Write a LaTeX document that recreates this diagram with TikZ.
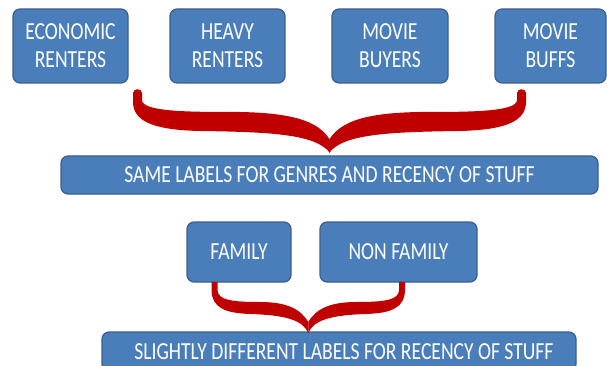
\documentclass[tikz,border=0pt]{standalone}
\usepackage{fontspec}
\setmainfont{Carlito}[FakeStretch=0.8]
\definecolor{boxfill}{HTML}{4A7EBB}
\definecolor{boxline}{HTML}{3A5F8E}
\definecolor{bracered}{HTML}{C00000}
\tikzset{
  blue box/.style={draw=boxline, fill=boxfill, line width=1.2pt, rounded corners=7pt,
    text=white, align=center, inner sep=0pt,
    font=\fontsize{24.5}{28}\selectfont},
  brace fill/.style={fill=bracered, draw=none}
}
\begin{document}
\begin{tikzpicture}[x=1pt,y=-1pt]
\useasboundingbox (0,0) rectangle (607,366);
% top boxes
\node[blue box, minimum width=115pt, minimum height=74pt] (econ)   at (70.5,46)  {ECONOMIC\\RENTERS};
\node[blue box, minimum width=115pt, minimum height=74pt] (heavy)  at (227.5,46) {HEAVY\\RENTERS};
\node[blue box, minimum width=116pt, minimum height=74pt] (buyers) at (390,46)   {MOVIE\\BUYERS};
\node[blue box, minimum width=111pt, minimum height=74pt] (buffs)  at (550.5,46) {MOVIE\\BUFFS};
\node[blue box, minimum width=537pt, minimum height=38pt] (same)   at (329.5,175) {SAME LABELS FOR GENRES AND RECENCY OF STUFF};
\node[blue box, minimum width=104pt, minimum height=60pt] (family) at (239,252)   {FAMILY};
\node[blue box, minimum width=157pt, minimum height=60pt] (nonfam) at (398.5,252) {NON FAMILY};
\node[blue box, minimum width=474pt, minimum height=39pt] (slight) at (339,351.5) {\hspace*{10pt}SLIGHTLY DIFFERENT LABELS FOR RECENCY OF STUFF};
% brace 1 (left half, then mirrored)
\foreach \s/\m in {0/1, 659/-1}{
  \begin{scope}[xshift=\s pt, xscale=\m]
    \fill[brace fill] (133,93) -- (133,103)
      .. controls (134,124) and (160,130) .. (200,131)
      .. controls (270,132) and (316,134) .. (330,153)
      -- (330,140)
      .. controls (318,120) and (290,113) .. (240,112)
      .. controls (190,112) and (142,112) .. (142,100)
      -- (142,93)
      .. controls (142,88) and (133,88) .. (133,93) -- cycle;
  \end{scope}
}
% brace 2
\foreach \s/\m in {0/1, 616.5/-1}{
  \begin{scope}[xshift=\s pt, xscale=\m]
    \fill[brace fill] (211.5,282) -- (211.5,290)
      .. controls (212,308) and (225,313) .. (250,314)
      .. controls (285,315) and (303,320) .. (308.25,333)
      -- (308.25,322)
      .. controls (300,308) and (285,302) .. (260,302)
      .. controls (232,302) and (217.5,300) .. (217.5,290)
      -- (217.5,282) -- cycle;
  \end{scope}
}
\end{tikzpicture}
\end{document}
